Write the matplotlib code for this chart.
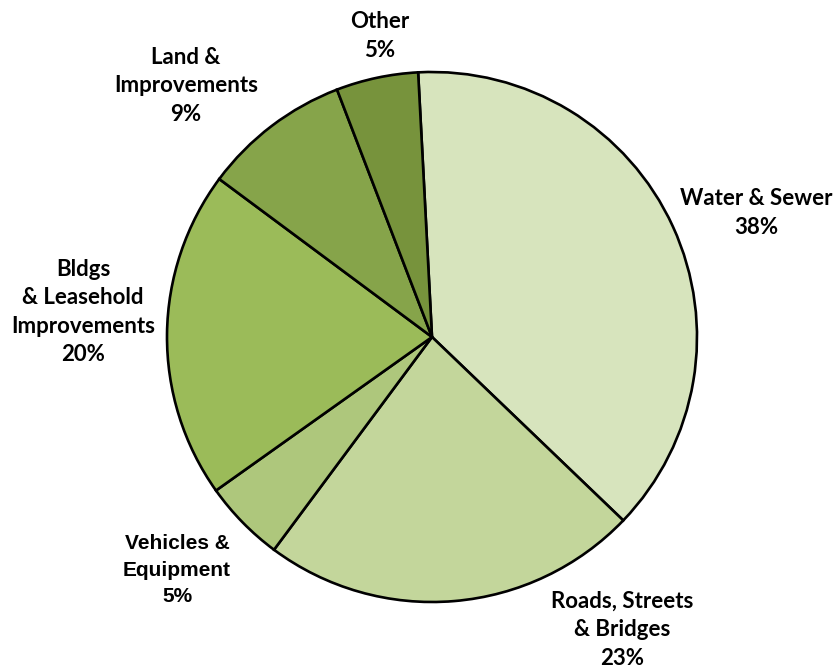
import matplotlib
matplotlib.use('Agg')
import matplotlib.pyplot as plt

# slice data, clockwise from the top
labels = ['Water & Sewer', 'Roads, Streets\n& Bridges', 'Vehicles &\nEquipment',
          'Bldgs\n& Leasehold\nImprovements', 'Land &\nImprovements', 'Other']
shares = [38, 23, 5, 20, 9, 5]
colors = ['#D7E4BD', '#C3D69B', '#AEC77C', '#9BBB59', '#86A44A', '#77933C']

# label anchor points (pixels from top-left)
label_pos = [(756, 213), (622, 630), (177, 570), (83, 312), (186, 86), (380, 36)]

W, H = 834, 669
fig = plt.figure(figsize=(W / 100, H / 100), dpi=100)
ax = fig.add_axes([0, 0, 1, 1])

ax.pie(shares, colors=colors, startangle=93, counterclock=False,
       center=(432, H - 337), radius=265,
       wedgeprops=dict(edgecolor='black', linewidth=1.9), frame=True)
ax.set_xlim(0, W)
ax.set_ylim(0, H)
ax.set_aspect('equal')
ax.axis('off')

for lab, val, (x, y) in zip(labels, shares, label_pos):
    if lab.startswith('Vehicles'):
        fam, fs, ls = ['Liberation Sans', 'DejaVu Sans'], 15, 1.5
    else:
        fam, fs, ls = ['Lato', 'DejaVu Sans'], 16, 1.45
    ax.text(x, H - y, f'{lab}\n{val}%', ha='center', va='center',
            fontsize=fs, fontweight='bold', family=fam, linespacing=ls)

fig.savefig('out.png', dpi=100)
